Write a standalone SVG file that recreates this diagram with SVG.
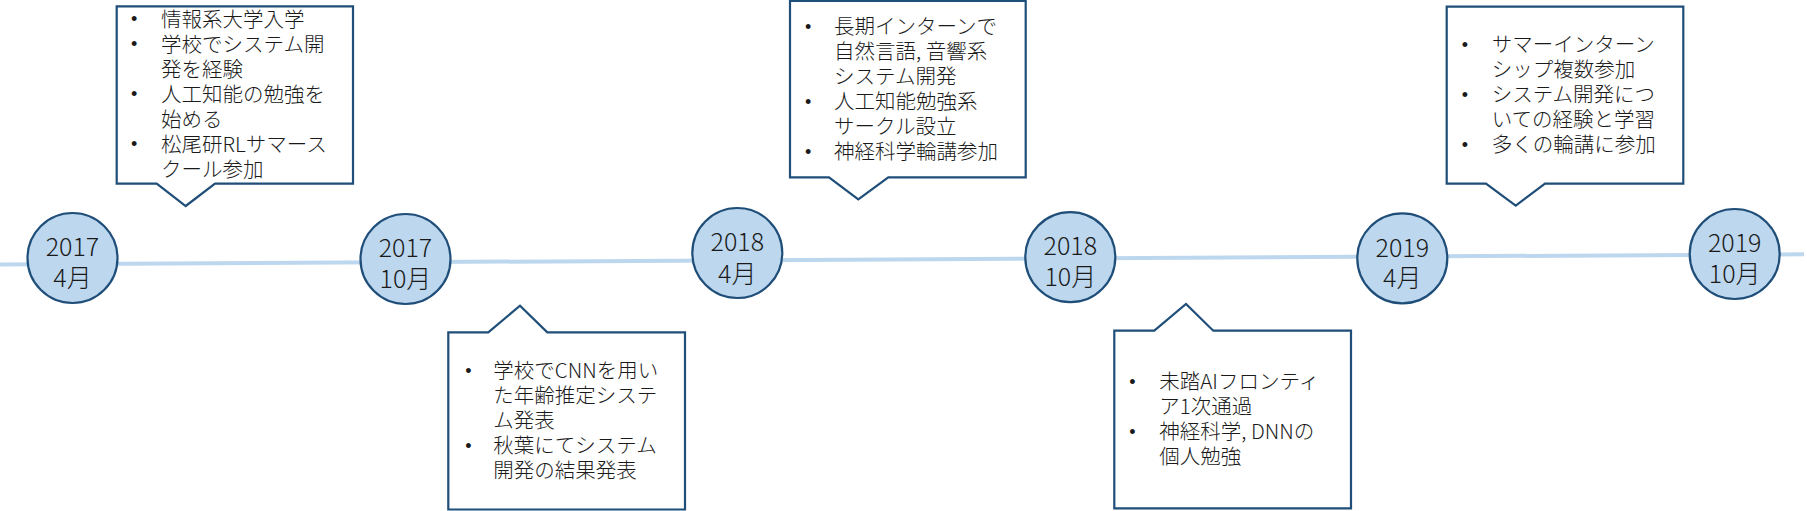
<svg xmlns="http://www.w3.org/2000/svg" width="1807" height="511" viewBox="0 0 1807 511">
<style>
.box{fill:#fff;stroke:#1F4E79;stroke-width:2.2;stroke-linejoin:miter}
.dot{fill:#BDD7EE;stroke:#1F4E79;stroke-width:2.2}
.bt{font-family:"Noto Sans CJK JP","Noto Sans",sans-serif;font-size:20.5px;font-weight:300;fill:#1a1a1a}
.bl{font-family:"Liberation Sans",sans-serif;font-size:18px;font-weight:400}
.ct{font-family:"Noto Sans CJK JP","Noto Sans",sans-serif;font-size:25px;font-weight:300;fill:#1a1a1a;text-anchor:middle}
</style>
<rect width="1807" height="511" fill="#fff"/>
<g id="connectors">
<line x1="0" y1="264.5" x2="1804" y2="254.3" stroke="#BDD7EE" stroke-width="4"/>
</g>
<g id="n2017-04">
<circle class="dot" cx="72.5" cy="258" r="45"/>
<text class="ct"><tspan x="72.5" y="256">2017</tspan><tspan x="72.5" y="287">4月</tspan></text>
</g>
<g id="n2017-10">
<circle class="dot" cx="405.5" cy="259" r="45"/>
<text class="ct"><tspan x="405.5" y="257">2017</tspan><tspan x="405.5" y="288">10月</tspan></text>
</g>
<g id="n2018-04">
<circle class="dot" cx="737.3" cy="253" r="45"/>
<text class="ct"><tspan x="737.3" y="251">2018</tspan><tspan x="737.3" y="283">4月</tspan></text>
</g>
<g id="n2018-10">
<circle class="dot" cx="1070.3" cy="257.2" r="45"/>
<text class="ct"><tspan x="1070.3" y="255">2018</tspan><tspan x="1070.3" y="286">10月</tspan></text>
</g>
<g id="n2019-04">
<circle class="dot" cx="1402.3" cy="258.3" r="45"/>
<text class="ct"><tspan x="1402.3" y="256.5">2019</tspan><tspan x="1402.3" y="287">4月</tspan></text>
</g>
<g id="n2019-10">
<circle class="dot" cx="1734.7" cy="254" r="45"/>
<text class="ct"><tspan x="1734.7" y="252">2019</tspan><tspan x="1734.7" y="283">10月</tspan></text>
</g>
<g id="c2017-04">
<path class="box" d="M116.7,6.3 H353 V183.7 H215 L185.7,206 L156.7,183.7 H116.7 Z"/>
<text class="bt"><tspan class="bl" x="131" y="25">•</tspan><tspan x="161" y="26.5">情報系大学入学</tspan><tspan class="bl" x="131" y="50">•</tspan><tspan x="161" y="51.5">学校でシステム開</tspan><tspan x="161" y="76.5">発を経験</tspan><tspan class="bl" x="131" y="100">•</tspan><tspan x="161" y="101.5">人工知能の勉強を</tspan><tspan x="161" y="126.5">始める</tspan><tspan class="bl" x="131" y="150">•</tspan><tspan x="161" y="151.5">松尾研RLサマース</tspan><tspan x="161" y="176.5">クール参加</tspan></text>
</g>
<g id="c2017-10">
<path class="box" d="M448.3,332.3 H488.3 L520,305.7 L547.3,332.3 H685 V509.5 H448.3 Z"/>
<text class="bt"><tspan class="bl" x="465.3" y="377">•</tspan><tspan x="493.3" y="378">学校でCNNを用い</tspan><tspan x="493.3" y="403">た年齢推定システ</tspan><tspan x="493.3" y="428">ム発表</tspan><tspan class="bl" x="465.3" y="452">•</tspan><tspan x="493.3" y="453">秋葉にてシステム</tspan><tspan x="493.3" y="478">開発の結果発表</tspan></text>
</g>
<g id="c2018-04">
<path class="box" d="M790,1 H1025.7 V177.3 H888.3 L858.3,199.3 L829,177.3 H790 Z"/>
<text class="bt"><tspan class="bl" x="805" y="33">•</tspan><tspan x="834" y="34">長期インターンで</tspan><tspan x="834" y="59">自然言語, 音響系</tspan><tspan x="834" y="84">システム開発</tspan><tspan class="bl" x="805" y="108">•</tspan><tspan x="834" y="109">人工知能勉強系</tspan><tspan x="834" y="134">サークル設立</tspan><tspan class="bl" x="805" y="158">•</tspan><tspan x="834" y="159">神経科学輪講参加</tspan></text>
</g>
<g id="c2018-10">
<path class="box" d="M1114.3,330.7 H1154.3 L1186,304 L1213.3,330.7 H1351 V508.3 H1114.3 Z"/>
<text class="bt"><tspan class="bl" x="1129.3" y="388">•</tspan><tspan x="1159.3" y="389">未踏AIフロンティ</tspan><tspan x="1159.3" y="414">ア1次通過</tspan><tspan class="bl" x="1129.3" y="438">•</tspan><tspan x="1159.3" y="439">神経科学, DNNの</tspan><tspan x="1159.3" y="464">個人勉強</tspan></text>
</g>
<g id="c2019-04">
<path class="box" d="M1446.7,6.7 H1683.3 V183.7 H1545 L1515.7,205.7 L1486,183.7 H1446.7 Z"/>
<text class="bt"><tspan class="bl" x="1461.7" y="51">•</tspan><tspan x="1491.7" y="52">サマーインターン</tspan><tspan x="1491.7" y="77">シップ複数参加</tspan><tspan class="bl" x="1461.7" y="101">•</tspan><tspan x="1491.7" y="102">システム開発につ</tspan><tspan x="1491.7" y="127">いての経験と学習</tspan><tspan class="bl" x="1461.7" y="151">•</tspan><tspan x="1491.7" y="152">多くの輪講に参加</tspan></text>
</g>
</svg>
